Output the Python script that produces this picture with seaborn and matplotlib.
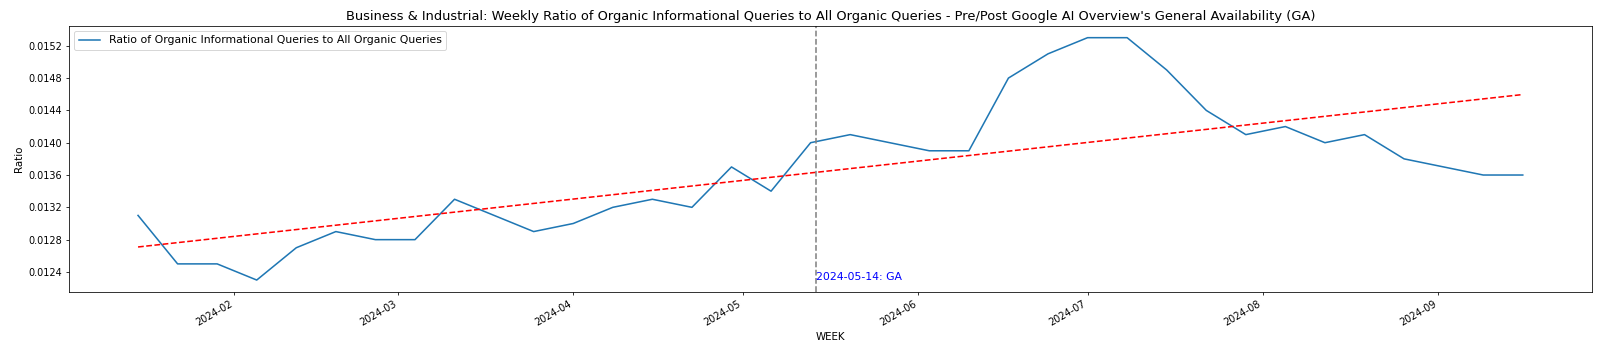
import numpy as np
import pandas as pd
import seaborn as sns
import matplotlib
matplotlib.use("Agg")
import matplotlib.pyplot as plt
from matplotlib.ticker import MultipleLocator

# weekly data (Mondays)
weeks = pd.date_range("2024-01-15", "2024-09-16", freq="7D")
ratio = [
    0.0131, 0.0125, 0.0125, 0.0123, 0.0127, 0.0129, 0.0128, 0.0128,
    0.0133, 0.0131, 0.0129, 0.0130, 0.0132, 0.0133, 0.0132, 0.0137,
    0.0134, 0.0140, 0.0141, 0.0140, 0.0139, 0.0139, 0.0148, 0.0151,
    0.0153, 0.0153, 0.0149, 0.0144, 0.0141, 0.0142, 0.0140, 0.0141,
    0.0138, 0.0137, 0.0136, 0.0136,
]
ga_date = pd.Timestamp("2024-05-14")
ga_label = "2024-05-14: GA"
series_label = "Ratio of Organic Informational Queries to All Organic Queries"
title = ("Business & Industrial: Weekly Ratio of Organic Informational Queries to All "
         "Organic Queries - Pre/Post Google AI Overview's General Availability (GA)")

df = pd.DataFrame({"WEEK": weeks, "Ratio": ratio})

DPI = 70
fig, ax = plt.subplots(figsize=(1600 / DPI, 355 / DPI), dpi=DPI)

sns.lineplot(data=df, x="WEEK", y="Ratio", ax=ax, label=series_label, linewidth=1.6)

# linear trend line
idx = np.arange(len(df))
slope, intercept = np.polyfit(idx, df["Ratio"], 1)
ax.plot(df["WEEK"], slope * idx + intercept, "r--", linewidth=1.6)

# GA marker
ax.axvline(ga_date, color="gray", linestyle="--", linewidth=1.6)
ax.text(ga_date, min(ratio), ga_label, color="blue", fontsize=11.2)

ax.set_title(title, fontsize=13.4)
ax.set_xlabel("WEEK", fontsize=10.5)
ax.set_ylabel("Ratio", fontsize=10.5)
ax.yaxis.set_major_locator(MultipleLocator(0.0004))
ax.legend(loc="upper left", fontsize=11.2)
fig.autofmt_xdate()

fig.subplots_adjust(left=0.043, right=0.995, top=0.928, bottom=0.177)
fig.savefig("out.png", dpi=DPI)
